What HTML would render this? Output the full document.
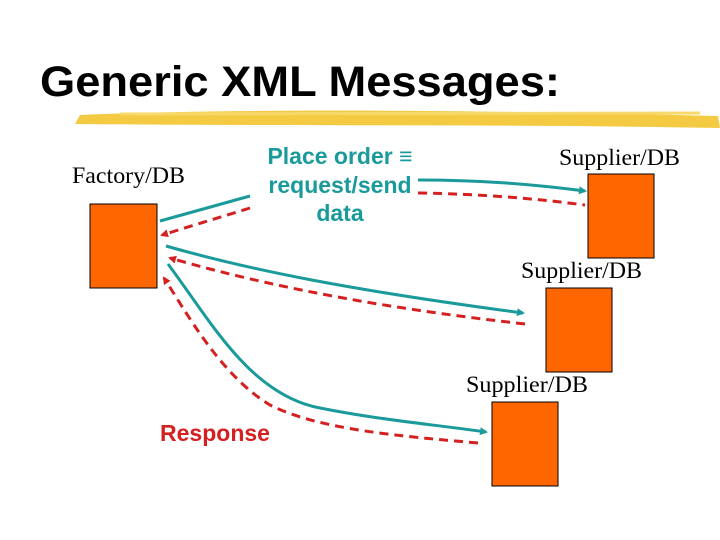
<!DOCTYPE html>
<html><head><meta charset="utf-8"><style>
html,body{margin:0;padding:0;background:#fff;width:720px;height:540px;overflow:hidden}
svg{display:block}
</style></head><body>
<svg width="720" height="540" viewBox="0 0 720 540" xmlns="http://www.w3.org/2000/svg">
<defs>
<marker id="at" markerWidth="8" markerHeight="8" refX="6" refY="4" orient="auto" markerUnits="userSpaceOnUse"><path d="M0,0 L8,4 L0,8 z" fill="#1a9a9a"/></marker>
<marker id="ar" markerWidth="8" markerHeight="8" refX="6" refY="4" orient="auto" markerUnits="userSpaceOnUse"><path d="M0,0 L8,4 L0,8 z" fill="#d42020"/></marker>
</defs>
<text x="40" y="96" font-family="Liberation Sans, sans-serif" font-weight="bold" font-size="43" fill="#000" textLength="520" lengthAdjust="spacingAndGlyphs">Generic XML Messages:</text>
<path d="M80,115 C200,110 400,108 718,116 L720,128 C500,124 300,126 75,124 z" fill="#f2c42c" opacity="0.9"/>
<path d="M120,114 L700,113" stroke="#f7d86a" stroke-width="3"/>
<g font-family="Liberation Serif, serif" font-size="23" fill="#000">
<text x="72" y="183" textLength="113" lengthAdjust="spacingAndGlyphs">Factory/DB</text>
<text x="559" y="165" textLength="121" lengthAdjust="spacingAndGlyphs">Supplier/DB</text>
<text x="521" y="278" textLength="121" lengthAdjust="spacingAndGlyphs">Supplier/DB</text>
<text x="466" y="392" textLength="122" lengthAdjust="spacingAndGlyphs">Supplier/DB</text>
</g>
<g font-family="Liberation Sans, sans-serif" font-weight="bold" font-size="23" fill="#1a9a9a" text-anchor="middle">
<text x="340" y="164">Place order ≡</text>
<text x="340" y="193">request/send</text>
<text x="340" y="221">data</text>
</g>
<text x="215" y="441" font-family="Liberation Sans, sans-serif" font-weight="bold" font-size="23" fill="#d42020" text-anchor="middle">Response</text>
<g fill="#ff6600" stroke="#000" stroke-width="1">
<rect x="90" y="204" width="67" height="84"/>
<rect x="588" y="174" width="66" height="84"/>
<rect x="546" y="288" width="66" height="84"/>
<rect x="492" y="402" width="66" height="84"/>
</g>
<g fill="none" stroke-width="3">
<path d="M250,196 L160,221" stroke="#1a9a9a"/>
<path d="M250,208 L162,235" stroke="#d42020" stroke-dasharray="9,6" marker-end="url(#ar)"/>
<path d="M418,180 C480,180 530,184 585,191" stroke="#1a9a9a" marker-end="url(#at)"/>
<path d="M418,193 C480,194 530,198 585,205" stroke="#d42020" stroke-dasharray="9,6"/>
<path d="M166,246 C250,270 350,290 523,313" stroke="#1a9a9a" marker-end="url(#at)"/>
<path d="M525,324 C400,310 280,290 170,258" stroke="#d42020" stroke-dasharray="9,6" marker-end="url(#ar)"/>
<path d="M168,264 C210,320 250,395 320,408 C380,420 430,424 486,432" stroke="#1a9a9a" marker-end="url(#at)"/>
<path d="M478,443 C400,436 320,430 270,405 C220,375 185,310 164,278" stroke="#d42020" stroke-dasharray="9,6" marker-end="url(#ar)"/>
</g>
</svg>
</body></html>
